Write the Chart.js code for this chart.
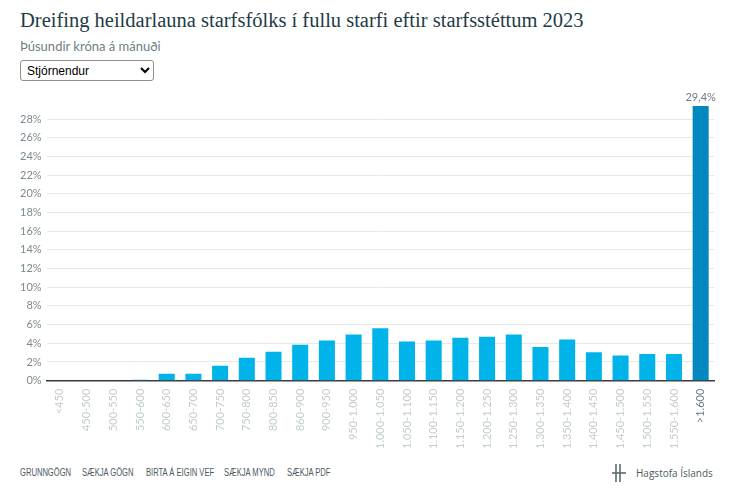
<!DOCTYPE html>
<html lang="is">
<head>
<meta charset="utf-8">
<script src="https://cdn.jsdelivr.net/npm/chart.js@4.4.1/dist/chart.umd.min.js"></script>
<style>
  html, body { margin: 0; padding: 0; background: #fff; width: 730px; height: 489px; overflow: hidden; }
  #titill { position: absolute; left: 20px; top: 9px; font-family: "Liberation Serif", "DejaVu Serif", serif; font-size: 20.5px; color: #1f3b45; white-space: nowrap; }
  #undirtitill { position: absolute; left: 20px; top: 38px; font-family: Lato, "Open Sans", sans-serif; font-size: 13px; color: #6f7f86; }
  #flokkur { position: absolute; left: 20px; top: 60px; width: 134px; height: 21px; font-family: Arial, "Liberation Sans", sans-serif; font-size: 12px; color: #000; border: 1px solid #8f8f8f; border-radius: 3px; background: #fff; padding: 0 2px; }
  #rammi { position: absolute; left: 0; top: 88px; width: 730px; height: 369px; }
  .tengill { position: absolute; top: 467px; font-family: "Liberation Sans", Arial, sans-serif; font-size: 10px; color: #4d5a60; white-space: nowrap; transform: scaleX(0.76); transform-origin: left center; }
  #merki { position: absolute; left: 612px; top: 463px; font-family: "Open Sans", sans-serif; font-size: 10px; color: #4d5a60; display: flex; align-items: center; }
  #merki svg { margin-right: 10px; }
</style>
</head>
<body>
<div id="titill">Dreifing heildarlauna starfsfólks í fullu starfi eftir starfsstéttum 2023</div>
<div id="undirtitill">Þúsundir króna á mánuði</div>
<select id="flokkur"><option>Stjórnendur</option></select>
<div id="rammi"><canvas id="grafLaun"></canvas></div>
<div class="tengill" style="left:20px">GRUNNGÖGN</div>
<div class="tengill" style="left:82px">SÆKJA GÖGN</div>
<div class="tengill" style="left:146px">BIRTA Á EIGIN VEF</div>
<div class="tengill" style="left:224px">SÆKJA MYND</div>
<div class="tengill" style="left:287px">SÆKJA PDF</div>
<div id="merki">
  <svg width="14" height="20" viewBox="0 0 14 20"><g stroke="#5c6a70" stroke-width="1.6" fill="none"><line x1="4" y1="1" x2="4" y2="19"/><line x1="8" y1="1" x2="8" y2="19"/><line x1="0" y1="10" x2="14" y2="10"/></g></svg>
  <span>Hagstofa Íslands</span>
</div>
<script>
// ==================== GÖGN ====================
const launabil = ['<450', '450-500', '500-550', '550-600', '600-650', '650-700', '700-750', '750-800',
    '800-850', '860-900', '900-950', '950-1.000', '1.000-1.050', '1.050-1.100', '1.100-1.150',
    '1.150-1.200', '1.200-1.250', '1.250-1.300', '1.300-1.350', '1.350-1.400', '1.400-1.450',
    '1.450-1.500', '1.500-1.550', '1.550-1.600', '>1.600'];
const hlutfall = [0, 0, 0, 0.1, 0.75, 0.75, 1.6, 2.45, 3.1, 3.85, 4.3, 4.95, 5.6, 4.2, 4.3,
    4.6, 4.7, 4.95, 3.6, 4.4, 3.05, 2.7, 2.85, 2.85, 29.4];
const yTikk = [0, 2, 4, 6, 8, 10, 12, 14, 16, 18, 20, 22, 24, 26, 28];

const sidasti = launabil.length - 1;
const litir = launabil.map((_, i) => i === sidasti ? '#0088bf' : '#00b4ea');
const tikkLitir = launabil.map((_, i) => i === sidasti ? '#6c7c83' : '#c3ccd0');

function prosenta(v) {
    return String(v).replace('.', ',') + '%';
}

// merki ofan á síðustu súluna
const gildiMerki = {
    id: 'gildiMerki',
    afterDatasetsDraw(chart) {
        const ctx = chart.ctx;
        const punktur = chart.getDatasetMeta(0).data[sidasti];
        ctx.save();
        ctx.font = '11px Lato, sans-serif';
        ctx.fillStyle = '#6c7c83';
        ctx.textAlign = 'center';
        ctx.textBaseline = 'bottom';
        ctx.fillText(prosenta(hlutfall[sidasti]), punktur.x, punktur.y - 3);
        ctx.restore();
    }
};

Chart.defaults.font.family = 'Lato, "Open Sans", sans-serif';
Chart.defaults.font.size = 11;

const graf = new Chart(document.getElementById('grafLaun').getContext('2d'), {
    type: 'bar',
    data: {
        labels: launabil,
        datasets: [{
            data: hlutfall,
            backgroundColor: litir,
            borderWidth: 0,
            barPercentage: 0.6,
            categoryPercentage: 1
        }]
    },
    options: {
        responsive: true,
        maintainAspectRatio: false,
        animation: false,
        layout: { padding: { left: 15, right: 16, top: 18, bottom: 0 } },
        plugins: { legend: { display: false }, tooltip: { enabled: false } },
        scales: {
            x: {
                grid: { display: false, drawTicks: false },
                border: { color: '#3a3a3a', width: 1.5 },
                ticks: {
                    color: tikkLitir,
                    maxRotation: 90,
                    minRotation: 90,
                    autoSkip: false,
                    padding: 8,
                    font: { size: 11 }
                }
            },
            y: {
                min: 0,
                max: Math.max(...hlutfall),
                afterBuildTicks: axis => { axis.ticks = yTikk.map(v => ({ value: v })); },
                grid: { color: '#e8e8e8', drawTicks: false },
                border: { display: false },
                ticks: {
                    color: '#7b8a90',
                    padding: 5,
                    callback: v => v + '%'
                }
            }
        }
    },
    plugins: [gildiMerki]
});
</script>
</body>
</html>
